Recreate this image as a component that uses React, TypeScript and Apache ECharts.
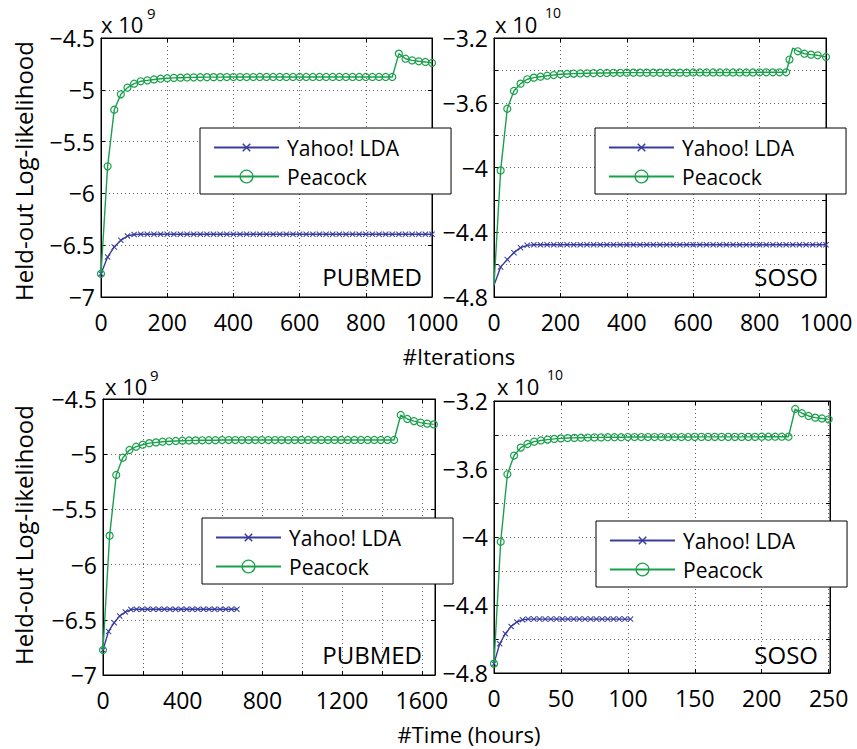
import React, { useEffect, useRef } from 'react';
import * as echarts from 'echarts';

const BLUE = '#383c9e';
const GREEN = '#19a04b';
const FONT = '"Open Sans", "Noto Sans", sans-serif';

const seriesNames = ['Yahoo! LDA', 'Peacock'];

// ---------- top-left: PUBMED vs #iterations (x 10^9), sampled every 20 iterations
const tlStep = 20;
const tlPeacock = [
  -6.775, -5.739, -5.192, -5.044, -4.979, -4.941, -4.918, -4.909, -4.900, -4.893,
  -4.888, -4.885, -4.883, -4.881, -4.880, -4.879, -4.878, -4.878, -4.878, -4.877,
  -4.877, -4.877, -4.877, -4.877, -4.876, -4.876, -4.876, -4.876, -4.876, -4.876,
  -4.876, -4.876, -4.876, -4.876, -4.876, -4.876, -4.876, -4.876, -4.876, -4.876,
  -4.876, -4.876, -4.876, -4.876, -4.876, -4.651, -4.700, -4.716, -4.725, -4.731,
  -4.741,
];
const tlYahoo = [
  -6.775, -6.614, -6.517, -6.453, -6.411, -6.397, -6.395, -6.395, -6.395, -6.395,
  -6.395, -6.395, -6.395, -6.395, -6.395, -6.395, -6.395, -6.395, -6.395, -6.395,
  -6.395, -6.395, -6.395, -6.395, -6.395, -6.395, -6.395, -6.395, -6.395, -6.395,
  -6.395, -6.395, -6.395, -6.395, -6.395, -6.395, -6.395, -6.395, -6.395, -6.395,
  -6.395, -6.395, -6.395, -6.395, -6.395, -6.395, -6.395, -6.395, -6.395, -6.395,
  -6.395,
];

// ---------- top-right: SOSO vs #iterations (x 10^10)
const trStep = 20;
const trPeacockHead = [
  -4.728, -4.018, -3.637, -3.527, -3.482, -3.455, -3.445, -3.439, -3.433, -3.429,
  -3.424, -3.422, -3.420, -3.419, -3.418, -3.417, -3.416, -3.416, -3.415, -3.415,
  -3.414, -3.414, -3.414, -3.414, -3.414, -3.414, -3.414, -3.414, -3.414, -3.414,
  -3.413, -3.413, -3.413, -3.413, -3.413, -3.413, -3.413, -3.413, -3.413, -3.413,
  -3.412, -3.412, -3.412, -3.412, -3.412,
];
const trPeacockTailX = [890, 900, 915, 935, 955, 975, 1000];
const trPeacockTailY = [-3.333, -3.262, -3.282, -3.297, -3.303, -3.307, -3.317];
const trYahoo = [
  -4.728, -4.614, -4.569, -4.526, -4.495, -4.481, -4.477, -4.477, -4.477, -4.477,
  -4.477, -4.477, -4.477, -4.477, -4.477, -4.477, -4.477, -4.477, -4.477, -4.477,
  -4.477, -4.477, -4.477, -4.477, -4.477, -4.477, -4.477, -4.477, -4.477, -4.477,
  -4.477, -4.477, -4.477, -4.477, -4.477, -4.477, -4.477, -4.477, -4.477, -4.477,
  -4.477, -4.477, -4.477, -4.477, -4.477, -4.477, -4.477, -4.477, -4.477, -4.477,
  -4.477,
];

// ---------- bottom-left: PUBMED vs time in hours (x 10^9)
const blPeacockStep = 33.2;
const blYahooStep = 28;
const blPeacock = [
  -6.773, -5.738, -5.188, -5.031, -4.962, -4.932, -4.914, -4.900, -4.893, -4.887,
  -4.883, -4.880, -4.878, -4.876, -4.875, -4.874, -4.873, -4.873, -4.872, -4.872,
  -4.872, -4.872, -4.872, -4.872, -4.872, -4.872, -4.872, -4.872, -4.872, -4.872,
  -4.871, -4.871, -4.871, -4.871, -4.871, -4.871, -4.871, -4.871, -4.871, -4.871,
  -4.871, -4.871, -4.871, -4.871, -4.871, -4.645, -4.681, -4.700, -4.714, -4.723,
  -4.730,
];
const blYahoo = [
  -6.773, -6.605, -6.526, -6.466, -6.430, -6.407, -6.404, -6.404, -6.404, -6.404,
  -6.404, -6.404, -6.404, -6.404, -6.404, -6.404, -6.404, -6.404, -6.404, -6.404,
  -6.404, -6.404, -6.404, -6.404, -6.404,
];

// ---------- bottom-right: SOSO vs time in hours (x 10^10)
const brPeacockStep = 5;
const brYahooStep = 4.25;
const brPeacock = [
  -4.745, -4.028, -3.631, -3.521, -3.474, -3.453, -3.439, -3.432, -3.427, -3.423,
  -3.420, -3.418, -3.417, -3.416, -3.415, -3.414, -3.414, -3.413, -3.413, -3.413,
  -3.412, -3.412, -3.412, -3.412, -3.412, -3.412, -3.412, -3.412, -3.412, -3.412,
  -3.411, -3.411, -3.411, -3.411, -3.411, -3.411, -3.411, -3.411, -3.411, -3.411,
  -3.410, -3.410, -3.410, -3.410, -3.410, -3.247, -3.272, -3.288, -3.298, -3.303,
  -3.308,
];
const brYahoo = [
  -4.745, -4.628, -4.569, -4.526, -4.500, -4.487, -4.483, -4.483, -4.483, -4.483,
  -4.483, -4.483, -4.483, -4.483, -4.483, -4.483, -4.483, -4.483, -4.483, -4.483,
  -4.483, -4.483, -4.483, -4.483, -4.483,
];

// axis tick settings
const tlXTicks = { min: 0, max: 1000, interval: 200, labelEvery: 200 };
const trXTicks = { min: 0, max: 1000, interval: 200, labelEvery: 200 };
const blXTicks = { min: 0, max: 1666, interval: 200, labelEvery: 400 };
const brXTicks = { min: 0, max: 251, interval: 50, labelEvery: 50 };
const pubmedYTicks = { min: -7, max: -4.5, interval: 0.5, labelMod: 5 };
const sosoYTicks = { min: -4.8, max: -3.2, interval: 0.2, labelMod: 4 };

const XMARK =
  'path://M-2.5,-2.5M12.5,12.5M0,1.2L1.2,0L5,3.8L8.8,0L10,1.2L6.2,5L10,8.8L8.8,10L5,6.2L1.2,10L0,8.8L3.8,5Z';

const TICK_FONT = 23;

const toPairs = (vals: number[], step: number) => vals.map((v, i) => [i * step, v]);

function xAxes(g: number, t: { min: number; max: number; interval: number; labelEvery: number }) {
  const common = {
    type: 'value',
    gridIndex: g,
    min: t.min,
    max: t.max,
    interval: t.interval,
    axisLine: { show: true, onZero: false, lineStyle: { color: '#000', width: 1 } },
    axisTick: { show: true, inside: true, length: 4, lineStyle: { color: '#000', width: 1 } },
  };
  return [
    {
      ...common,
      position: 'bottom',
      axisLabel: {
        fontSize: TICK_FONT,
        lineHeight: 19,
        fontFamily: FONT,
        color: '#000',
        margin: 15,
        showMaxLabel: true,
        formatter: (v: number) => (Math.abs(v % t.labelEvery) < 1e-6 ? String(v) : ''),
      },
      splitLine: { show: true, lineStyle: { color: '#666', type: [1, 3], width: 1 } },
    },
    {
      ...common,
      position: 'top',
      axisLabel: { show: false },
      splitLine: { show: false },
    },
  ];
}

function yAxes(g: number, t: { min: number; max: number; interval: number; labelMod: number }) {
  const common = {
    type: 'value',
    gridIndex: g,
    min: t.min,
    max: t.max,
    interval: t.interval,
    axisLine: { show: true, onZero: false, lineStyle: { color: '#000', width: 1 } },
    axisTick: { show: true, inside: true, length: 4, lineStyle: { color: '#000', width: 1 } },
  };
  return [
    {
      ...common,
      position: 'left',
      axisLabel: {
        fontSize: TICK_FONT,
        lineHeight: 19,
        fontFamily: FONT,
        color: '#000',
        margin: 6,
        formatter: (v: number) => {
          const r = Math.round(v * 10);
          if (r % t.labelMod !== 0) return '';
          return String(r / 10).replace('-', '\u2212');
        },
      },
      splitLine: { show: true, lineStyle: { color: '#666', type: [1, 3], width: 1 } },
    },
    {
      ...common,
      position: 'right',
      axisLabel: { show: false },
      splitLine: { show: false },
    },
  ];
}

function yahooSeries(g: number, data: any[]) {
  return {
    type: 'line',
    name: seriesNames[0],
    xAxisIndex: 2 * g,
    yAxisIndex: 2 * g,
    data,
    symbol: XMARK,
    symbolSize: 9,
    showAllSymbol: true,
    lineStyle: { color: BLUE, width: 1.4 },
    itemStyle: { color: BLUE },
    z: 3,
  };
}

function peacockSeries(g: number, data: any[]) {
  return {
    type: 'line',
    name: seriesNames[1],
    xAxisIndex: 2 * g,
    yAxisIndex: 2 * g,
    data,
    symbol: 'circle',
    symbolSize: 7,
    showAllSymbol: true,
    lineStyle: { color: GREEN, width: 1.4 },
    itemStyle: { color: 'rgba(0,0,0,0)', borderColor: GREEN, borderWidth: 1.2 },
    z: 4,
  };
}

function legendAt(left: number, top: number) {
  return {
    left,
    top,
    orient: 'vertical',
    itemWidth: 65,
    itemHeight: 16,
    itemGap: 8,
    padding: [9, 52, 7, 13],
    borderColor: '#000',
    borderWidth: 1,
    backgroundColor: '#fff',
    textStyle: { fontSize: 21, fontFamily: FONT, color: '#000', padding: [0, 0, 0, 3] },
    data: [
      { name: seriesNames[0], itemStyle: { color: BLUE } },
      {
        name: seriesNames[1],
        itemStyle: { color: 'rgba(0,0,0,0)', borderColor: GREEN, borderWidth: 1.3 },
      },
    ],
  };
}

function txt(x: number, y: number, text: string, size: number, align = 'left', rotation = 0) {
  return {
    type: 'text',
    x,
    y,
    rotation,
    style: {
      text,
      fontSize: size,
      fontFamily: FONT,
      fill: '#000',
      align,
      verticalAlign: 'middle',
    },
  };
}

export default function App() {
  const ref = useRef<HTMLDivElement>(null);
  useEffect(() => {
    if (!ref.current) return;
    const chart = echarts.init(ref.current, undefined, { renderer: 'svg' });

    const trPeacockData: any[] = trPeacockHead.map((v, i) =>
      i === 0 ? { value: [0, v], symbol: 'none' } : [i * trStep, v]
    );
    trPeacockTailX.forEach((x, i) => {
      const y = trPeacockTailY[i];
      trPeacockData.push(x === 900 ? { value: [x, y], symbol: 'none' } : [x, y]);
    });
    const trYahooData: any[] = trYahoo.map((v, i) =>
      i === 0 ? { value: [0, v], symbol: 'none' } : [i * trStep, v]
    );

    const option: any = {
      animation: false,
      backgroundColor: '#fff',
      grid: [
        { left: 101, top: 38, width: 331, height: 259 },
        { left: 494, top: 38, width: 332, height: 259 },
        { left: 103, top: 399, width: 332, height: 276 },
        { left: 494, top: 401, width: 336, height: 272 },
      ].map((g) => ({ ...g, show: true, borderColor: '#000', borderWidth: 1 })),
      xAxis: [
        ...xAxes(0, tlXTicks),
        ...xAxes(1, trXTicks),
        ...xAxes(2, blXTicks),
        ...xAxes(3, brXTicks),
      ],
      yAxis: [
        ...yAxes(0, pubmedYTicks),
        ...yAxes(1, sosoYTicks),
        ...yAxes(2, pubmedYTicks),
        ...yAxes(3, sosoYTicks),
      ],
      legend: [legendAt(200, 128), legendAt(595, 128), legendAt(202, 518), legendAt(596, 521)],
      series: [
        yahooSeries(0, toPairs(tlYahoo, tlStep)),
        peacockSeries(0, toPairs(tlPeacock, tlStep)),
        yahooSeries(1, trYahooData),
        peacockSeries(1, trPeacockData),
        yahooSeries(2, toPairs(blYahoo, blYahooStep)),
        peacockSeries(2, toPairs(blPeacock, blPeacockStep)),
        yahooSeries(3, toPairs(brYahoo, brYahooStep)),
        peacockSeries(3, toPairs(brPeacock, brPeacockStep)),
      ],
      graphic: [
        txt(101, 24, 'x 10', 22),
        txt(147, 13, '9', 15),
        txt(495, 24, 'x 10', 22),
        txt(545, 12, '10', 14),
        txt(105, 386, 'x 10', 22),
        txt(150, 375, '9', 15),
        txt(497, 386, 'x 10', 22),
        txt(547, 374, '10', 14),
        txt(422, 276, 'PUBMED', 24, 'right'),
        txt(818, 276, 'SOSO', 24, 'right'),
        txt(422, 654, 'PUBMED', 24, 'right'),
        txt(818, 654, 'SOSO', 24, 'right'),
        txt(459, 356, '#Iterations', 22, 'center'),
        txt(469, 734, '#Time (hours)', 22, 'center'),
        txt(23, 171, 'Held-out Log-likelihood', 24, 'center', Math.PI / 2),
        txt(23, 535, 'Held-out Log-likelihood', 24, 'center', Math.PI / 2),
      ],
    };
    chart.setOption(option);
    return () => chart.dispose();
  }, []);
  return (
    <div
      ref={ref}
      style={{ position: 'absolute', left: 0, top: 0, width: 857, height: 749 }}
    />
  );
}
